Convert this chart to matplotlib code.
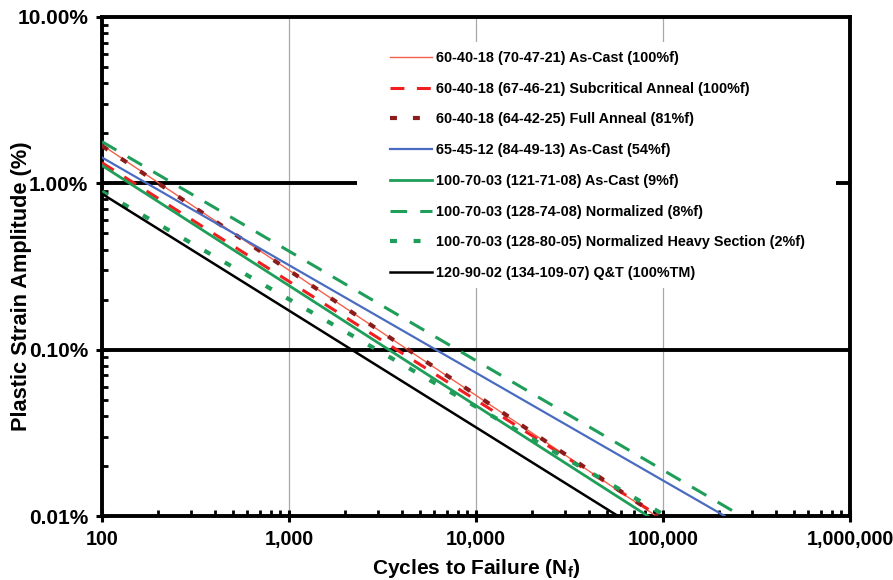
import matplotlib
matplotlib.use("Agg")
import matplotlib.pyplot as plt
from matplotlib.patches import Rectangle
from matplotlib.ticker import FuncFormatter, LogLocator, NullFormatter

plt.rcParams['font.family'] = ['Liberation Sans', 'DejaVu Sans']
plt.rcParams['font.weight'] = 'bold'
plt.rcParams['lines.scale_dashes'] = False

# series: start at N=100, end where each line hits 0.01%
labels = [
    "60-40-18 (70-47-21) As-Cast (100%f)",
    "60-40-18 (67-46-21) Subcritical Anneal (100%f)",
    "60-40-18 (64-42-25) Full Anneal (81%f)",
    "65-45-12 (84-49-13) As-Cast (54%f)",
    "100-70-03 (121-71-08) As-Cast (9%f)",
    "100-70-03 (128-74-08) Normalized (8%f)",
    "100-70-03 (128-80-05) Normalized Heavy Section (2%f)",
    "120-90-02 (134-109-07) Q&T (100%TM)",
]
n_start = [100, 100, 100, 100, 100, 100, 100, 100]
strain_start = [1.70, 1.33, 1.68, 1.43, 1.28, 1.78, 0.89, 0.865]
n_end = [92000, 95000, 94000, 214000, 83000, 263000, 104000, 57500]
strain_end = [0.01, 0.01, 0.01, 0.01, 0.01, 0.01, 0.01, 0.01]

green = '#1F9E5A'
styles = [
    dict(color='#F4604A', lw=1.0),
    dict(color='#F01E1E', lw=2.2, dashes=(10, 9)),
    dict(color='#8C1C1C', lw=3.0, dashes=(5, 11.5)),
    dict(color='#4A6CC0', lw=1.6),
    dict(color=green, lw=2.0),
    dict(color=green, lw=2.2, dashes=(12, 9.4)),
    dict(color=green, lw=3.0, dashes=(5, 12)),
    dict(color='black', lw=1.8),
]

fig = plt.figure(figsize=(8.93, 5.8), dpi=100)
ax = fig.add_axes([0.1142, 0.1103, 0.8376, 0.8604])

for i in range(len(labels)):
    ax.plot([n_start[i], n_end[i]], [strain_start[i], strain_end[i]],
            label=labels[i], zorder=3, **styles[i])

ax.set_xscale('log')
ax.set_yscale('log')
ax.set_xlim(100, 1e6)
ax.set_ylim(0.01, 10)

# grid: thin grey verticals, heavy black horizontals
for xv in [1e3, 1e4, 1e5]:
    ax.axvline(xv, color='#A8A8A8', lw=0.9, zorder=1)
for yv in [1.0, 0.1]:
    ax.axhline(yv, color='black', lw=2.8, zorder=1)

ax.xaxis.set_major_locator(LogLocator(base=10, numticks=10))
ax.yaxis.set_major_locator(LogLocator(base=10, numticks=10))
ax.xaxis.set_minor_locator(LogLocator(base=10, subs=range(2, 10), numticks=20))
ax.yaxis.set_minor_locator(LogLocator(base=10, subs=range(2, 10), numticks=20))
ax.xaxis.set_minor_formatter(NullFormatter())
ax.yaxis.set_minor_formatter(NullFormatter())
ax.xaxis.set_major_formatter(FuncFormatter(lambda v, p: f"{int(round(v)):,}"))
ax.yaxis.set_major_formatter(FuncFormatter(lambda v, p: f"{v:.2f}%"))

ax.tick_params(which='major', direction='inout', length=8, width=2.2, pad=6)
ax.tick_params(axis='y', which='major', labelsize=15)
ax.tick_params(axis='x', which='major', labelsize=14.2)
ax.tick_params(which='minor', direction='in', length=4.5, width=2)
ax.tick_params(top=False, right=False, which='both')
for s in ax.spines.values():
    s.set_linewidth(2.8)

ax.set_xlabel("Cycles to Failure (N$_\\mathregular{f}$)", fontsize=15, fontweight='bold', labelpad=6)
ax.set_ylabel("Plastic Strain Amplitude (%)", fontsize=15.7, fontweight='bold')
ax.yaxis.set_label_coords(-0.093, 0.461)

# white patch behind the legend (it breaks the 1% grid line)
ax.add_patch(Rectangle((0.341, 0.457), 0.640, 0.493, transform=ax.transAxes,
                       facecolor='white', edgecolor='none', zorder=4))
leg = ax.legend(loc='upper left', bbox_to_anchor=(0.385, 0.932), fontsize=10.4,
                frameon=False, handlelength=2.9, handletextpad=0.28,
                labelspacing=1.16, borderpad=0, borderaxespad=0)
leg.set_zorder(5)
for t in leg.get_texts():
    t.set_fontweight('bold')

fig.savefig('out.png', dpi=100)
